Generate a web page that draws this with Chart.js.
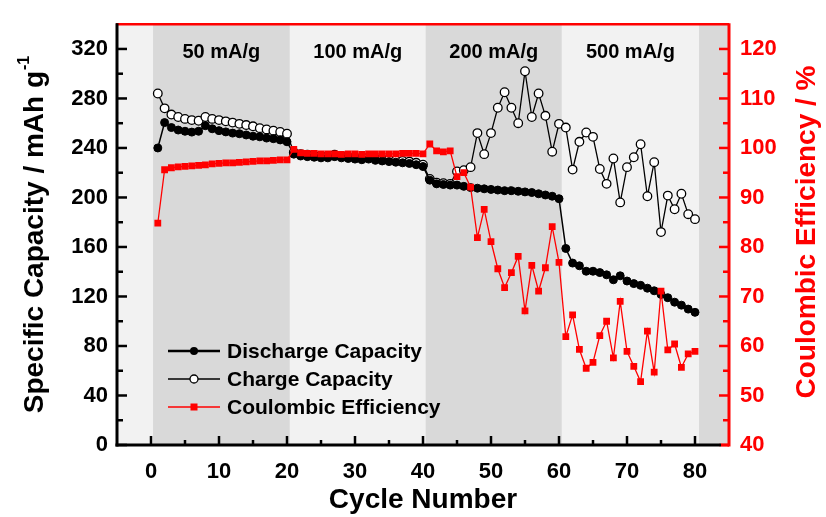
<!DOCTYPE html>
<html>
<head>
<meta charset="utf-8">
<script src="https://cdn.jsdelivr.net/npm/chart.js@4.4.1/dist/chart.umd.min.js"></script>
<style>
  html, body { margin: 0; padding: 0; background: #fff; }
</style>
</head>
<body>
<canvas id="cycleChart" width="826" height="517"></canvas>
<script>
// cycle data
const cycles = [1, 2, 3, 4, 5, 6, 7, 8, 9, 10, 11, 12, 13, 14, 15, 16, 17, 18, 19, 20,
  21, 22, 23, 24, 25, 26, 27, 28, 29, 30, 31, 32, 33, 34, 35, 36, 37, 38, 39, 40,
  41, 42, 43, 44, 45, 46, 47, 48, 49, 50, 51, 52, 53, 54, 55, 56, 57, 58, 59, 60,
  61, 62, 63, 64, 65, 66, 67, 68, 69, 70, 71, 72, 73, 74, 75, 76, 77, 78, 79, 80];

const discharge = [240, 260.5, 256.5, 254.5, 253.5, 252.8, 253.5, 258, 255.5, 254,
  253, 252, 251.5, 250.5, 249.5, 249, 248, 247.5, 246.5, 245,
  235, 233.5, 233, 232.5, 232, 232, 233, 232, 231.5, 231,
  230.5, 231, 230, 229.5, 229, 228.5, 228, 227.5, 226.5, 225,
  214, 211, 210.5, 210, 210, 209, 208, 207.5, 207, 206.5,
  206, 205.5, 205.5, 205, 204.5, 204, 203, 202, 201, 199,
  158.8, 147, 144.8, 140.4, 140.4, 139.3, 137.5, 133.5, 136.7, 132.5,
  130.4, 129, 126.7, 124.6, 121.7, 119, 115.4, 113, 109.8, 107.2];

const charge = [284, 272, 267, 265, 263.5, 262.5, 262, 265, 263.5, 262.5,
  261.5, 260.5, 259.5, 258.5, 257.5, 256, 255, 254, 253, 251.5,
  236.5, 235, 234.5, 234, 233.5, 233.5, 234.5, 233.5, 233, 232.5,
  232, 232.5, 231.5, 231, 230.5, 230, 229.5, 229, 228, 226.5,
  215, 212, 211.5, 211, 221, 222, 224.5, 252, 235, 252,
  272.5, 285, 272.5, 260, 302, 265, 284, 266, 237, 259.5,
  256.5, 222.5, 245, 252.5, 249, 223, 211, 231.5, 196, 224.5,
  232.5, 243, 201, 228.5, 172, 201.5, 190.5, 203, 186.5, 182.5];

const efficiency = [84.8, 95.6, 96.0, 96.2, 96.3, 96.4, 96.5, 96.6, 96.8, 96.9,
  97.0, 97.0, 97.1, 97.2, 97.3, 97.4, 97.4, 97.5, 97.6, 97.6,
  99.7, 99.0, 98.9, 98.9, 98.8, 98.8, 98.8, 98.7, 98.8, 98.8,
  98.7, 98.8, 98.8, 98.8, 98.8, 98.8, 98.9, 98.9, 98.9, 98.8,
  100.8, 99.4, 99.2, 99.4, 94.2, 95.0, 92.1, 81.9, 87.6, 81.1,
  75.6, 71.8, 74.8, 78.1, 67.1, 76.3, 71.1, 75.8, 84.1, 76.9,
  61.9, 66.3, 59.3, 55.5, 56.7, 62.1, 65.0, 57.6, 69.0, 58.9,
  55.9, 52.8, 63.0, 54.7, 71.1, 59.2, 60.4, 55.7, 58.4, 58.9];

const xTicks = [0, 10, 20, 30, 40, 50, 60, 70, 80];
const capTicks = [0, 40, 80, 120, 160, 200, 240, 280, 320];
const ceTicks = [40, 50, 60, 70, 80, 90, 100, 110, 120];

// current density steps (cycle boundaries)
const rateLabels = ['50 mA/g', '100 mA/g', '200 mA/g', '500 mA/g'];
const rateEdges = [0.3, 20.4, 40.4, 60.4, 80.6];

const FONT = "'Liberation Sans', Arial, sans-serif";
const RED = '#ff0000';

const pts = arr => arr.map((v, i) => ({ x: cycles[i], y: v }));
const fixTicks = vals => scale => { scale.ticks = vals.map(v => ({ value: v })); };

const framePlugin = {
  id: 'frame',
  beforeDatasetsDraw(chart) {
    const { ctx, chartArea: a, scales: { x } } = chart;
    ctx.save();
    ctx.fillStyle = '#f2f2f2';
    ctx.fillRect(a.left, a.top, a.width, a.height);
    ctx.fillStyle = '#d9d9d9';
    const dark = [[rateEdges[0], rateEdges[1]], [rateEdges[2], rateEdges[3]], [rateEdges[4], x.max]];
    dark.forEach(([s, e]) => {
      const x0 = x.getPixelForValue(s);
      const x1 = Math.min(x.getPixelForValue(e), a.right);
      ctx.fillRect(x0, a.top, x1 - x0, a.height);
    });
    ctx.fillStyle = '#000';
    ctx.font = 'bold 20px ' + FONT;
    ctx.textAlign = 'center';
    ctx.textBaseline = 'alphabetic';
    rateLabels.forEach((t, i) => {
      ctx.fillText(t, x.getPixelForValue((rateEdges[i] + rateEdges[i + 1]) / 2), a.top + 34);
    });
    ctx.restore();
  },
  afterDatasetsDraw(chart) {
    const { ctx, chartArea: a, scales: { x, yCap, yCE } } = chart;
    ctx.save();
    ctx.lineCap = 'butt';

    // tick marks, pointing inwards
    const tick = (x0, y0, x1, y1, color, w) => {
      ctx.strokeStyle = color; ctx.lineWidth = w;
      ctx.beginPath(); ctx.moveTo(x0, y0); ctx.lineTo(x1, y1); ctx.stroke();
    };
    capTicks.forEach((v, i) => {
      const y = yCap.getPixelForValue(v);
      tick(a.left, y, a.left + 10, y, '#000', 2.5);
      if (i < capTicks.length - 1) {
        const ym = yCap.getPixelForValue((v + capTicks[i + 1]) / 2);
        tick(a.left, ym, a.left + 6, ym, '#000', 2.5);
      }
    });
    ceTicks.forEach((v, i) => {
      const y = yCE.getPixelForValue(v);
      tick(a.right, y, a.right - 10, y, RED, 2.5);
      if (i < ceTicks.length - 1) {
        const ym = yCE.getPixelForValue((v + ceTicks[i + 1]) / 2);
        tick(a.right, ym, a.right - 6, ym, RED, 2.5);
      }
    });
    xTicks.forEach((v, i) => {
      const px = x.getPixelForValue(v);
      tick(px, a.bottom, px, a.bottom - 9, '#000', 2.5);
      if (i < xTicks.length - 1) {
        const pm = x.getPixelForValue((v + xTicks[i + 1]) / 2);
        tick(pm, a.bottom, pm, a.bottom - 5, '#000', 2.5);
      }
    });

    // frame
    tick(a.left - 1, a.top, a.right, a.top, RED, 2.5);
    tick(a.left, a.top - 1, a.left, a.bottom + 1.5, '#000', 3);
    tick(a.left - 1.5, a.bottom, a.right - 8, a.bottom, '#000', 3);
    tick(a.right - 8, a.bottom, a.right, a.bottom, RED, 3);
    tick(a.right, a.top - 1, a.right, a.bottom + 1.5, RED, 3);

    // legend
    const rows = [
      { text: 'Discharge Capacity', color: '#000', lw: 2.5, mark: 'dot' },
      { text: 'Charge Capacity', color: '#000', lw: 1.5, mark: 'ring' },
      { text: 'Coulombic Efficiency', color: RED, lw: 1.5, mark: 'square' }
    ];
    const lx = a.left + 51, ly = a.bottom - 94;
    rows.forEach((r, i) => {
      const y = ly + i * 28;
      tick(lx, y, lx + 52, y, r.color, r.lw);
      const cx = lx + 26;
      ctx.lineWidth = 1.3;
      if (r.mark === 'dot') {
        ctx.fillStyle = '#000';
        ctx.beginPath(); ctx.arc(cx, y, 4, 0, Math.PI * 2); ctx.fill();
      } else if (r.mark === 'ring') {
        ctx.fillStyle = '#fff'; ctx.strokeStyle = '#000';
        ctx.beginPath(); ctx.arc(cx, y, 4, 0, Math.PI * 2); ctx.fill(); ctx.stroke();
      } else {
        ctx.fillStyle = RED;
        ctx.fillRect(cx - 3.5, y - 3.5, 7, 7);
      }
      ctx.fillStyle = '#000';
      ctx.font = 'bold 21px ' + FONT;
      ctx.textAlign = 'left';
      ctx.textBaseline = 'middle';
      ctx.fillText(r.text, lx + 59, y + 1);
    });

    // y axis titles (both read bottom to top)
    ctx.save();
    ctx.translate(35, 235);
    ctx.rotate(-Math.PI / 2);
    ctx.fillStyle = '#000';
    ctx.textAlign = 'left';
    ctx.textBaseline = 'middle';
    ctx.font = 'bold 28px ' + FONT;
    const main = 'Specific Capacity / mAh g';
    const w1 = ctx.measureText(main).width;
    ctx.font = 'bold 16px ' + FONT;
    const w2 = ctx.measureText('-1').width;
    ctx.font = 'bold 28px ' + FONT;
    ctx.fillText(main, -(w1 + w2) / 2, 0);
    ctx.font = 'bold 16px ' + FONT;
    ctx.fillText('-1', -(w1 + w2) / 2 + w1 + 1, -10);
    ctx.restore();

    ctx.save();
    ctx.translate(807, 232);
    ctx.rotate(-Math.PI / 2);
    ctx.fillStyle = RED;
    ctx.textAlign = 'center';
    ctx.textBaseline = 'middle';
    ctx.font = 'bold 28px ' + FONT;
    ctx.fillText('Coulombic Efficiency / %', 0, 0);
    ctx.restore();

    ctx.restore();
  }
};

const tickFont = { family: FONT, size: 22, weight: 'bold' };

new Chart(document.getElementById('cycleChart'), {
  type: 'line',
  data: {
    datasets: [
      {
        label: 'Discharge Capacity',
        data: pts(discharge),
        yAxisID: 'yCap',
        borderColor: '#000',
        backgroundColor: '#000',
        borderWidth: 1.5,
        pointRadius: 4,
        pointBorderWidth: 1,
        pointBackgroundColor: '#000',
        order: 1
      },
      {
        label: 'Charge Capacity',
        data: pts(charge),
        yAxisID: 'yCap',
        borderColor: '#000',
        borderWidth: 1.3,
        pointRadius: 4.3,
        pointBorderWidth: 1.3,
        pointBackgroundColor: '#fff',
        pointBorderColor: '#000',
        order: 2
      },
      {
        label: 'Coulombic Efficiency',
        data: pts(efficiency),
        yAxisID: 'yCE',
        borderColor: RED,
        backgroundColor: RED,
        borderWidth: 1.3,
        pointStyle: 'rect',
        pointRadius: 4.8,
        pointBorderWidth: 0,
        pointBackgroundColor: RED,
        order: 0
      }
    ]
  },
  options: {
    responsive: false,
    animation: false,
    devicePixelRatio: 1,
    layout: { padding: { top: 15, left: 0, right: 0, bottom: 0 } },
    plugins: { legend: { display: false }, tooltip: { enabled: false } },
    elements: { line: { tension: 0 } },
    scales: {
      x: {
        type: 'linear',
        min: -5,
        max: 85,
        afterBuildTicks: fixTicks(xTicks),
        afterFit: s => { s.height = 72; },
        grid: { display: false, drawTicks: false },
        border: { display: false },
        ticks: { padding: 14, color: '#000', font: tickFont, maxRotation: 0, autoSkip: false },
        title: { display: true, text: 'Cycle Number', color: '#000', padding: 0,
          font: { family: FONT, size: 28, weight: 'bold' } }
      },
      yCap: {
        type: 'linear',
        position: 'left',
        min: 0,
        max: 340,
        afterBuildTicks: fixTicks(capTicks),
        afterFit: s => { s.width = 117; },
        grid: { display: false, drawTicks: false },
        border: { display: false },
        ticks: { padding: 9, color: '#000', font: tickFont }
      },
      yCE: {
        type: 'linear',
        position: 'right',
        min: 40,
        max: 125,
        afterBuildTicks: fixTicks(ceTicks),
        afterFit: s => { s.width = 97; },
        grid: { display: false, drawTicks: false },
        border: { display: false },
        ticks: { padding: 11, color: RED, font: tickFont }
      }
    }
  },
  plugins: [framePlugin]
});
</script>
</body>
</html>
